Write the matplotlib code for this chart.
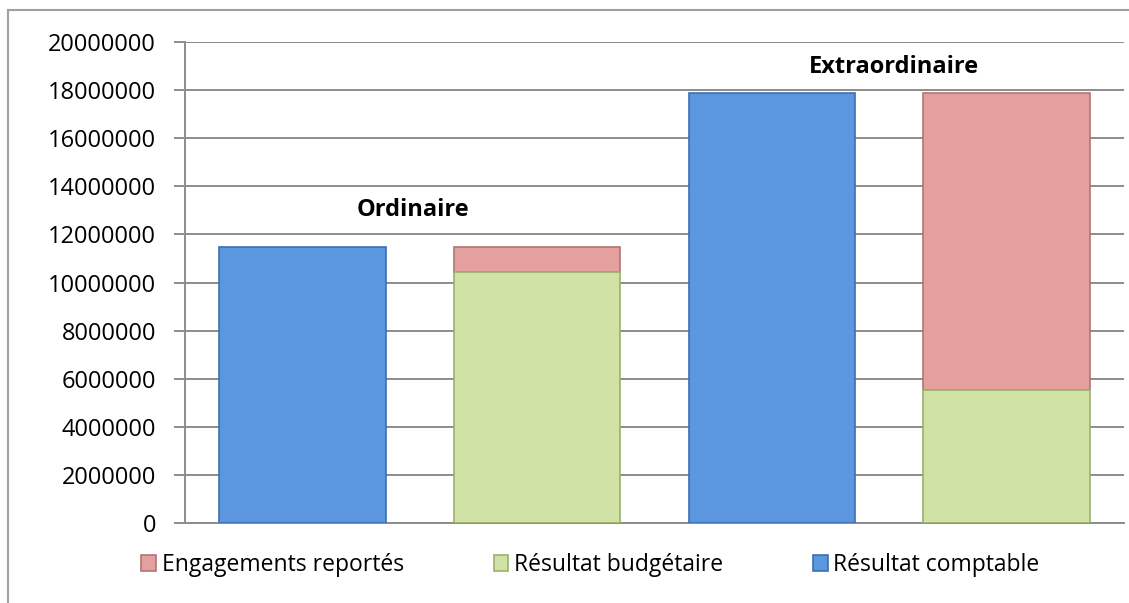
import matplotlib
matplotlib.use("Agg")
import matplotlib.pyplot as plt
from matplotlib.patches import Rectangle
import numpy as np

plt.rcParams['font.family'] = ['Open Sans', 'DejaVu Sans']

# data
bars = ["Ordinaire comptable", "Ordinaire budgétaire",
        "Extraordinaire comptable", "Extraordinaire budgétaire"]
comptable = [11480000, 0, 17880000, 0]
budgetaire = [0, 10440000, 0, 5550000]
engagements = [0, 1040000, 0, 12330000]
groupes = ["Ordinaire", "Extraordinaire"]
groupe_pos = [0.47, 2.52]
groupe_y = [13000000, 18950000]

BLUE, BLUE_E = "#5B97DE", "#3F6FAF"
GREEN, GREEN_E = "#D0E2A5", "#9BB06A"
PINK, PINK_E = "#E4A09E", "#B07573"
GRID = "#8C8C8C"


def nz(v):
    # hide empty segments so they draw no edge line
    v = np.array(v, dtype=float)
    return np.where(v > 0, v, np.nan)


fig = plt.figure(figsize=(11.29, 6.03), dpi=100)
ax = fig.add_axes([0.1639, 0.1327, 0.8317, 0.7976])

x = np.arange(len(bars))
w = 0.71
b1 = ax.bar(x, nz(engagements), w, bottom=budgetaire, color=PINK, edgecolor=PINK_E,
            linewidth=1.2, label="Engagements reportés", zorder=3)
b2 = ax.bar(x, nz(budgetaire), w, color=GREEN, edgecolor=GREEN_E,
            linewidth=1.2, label="Résultat budgétaire", zorder=3)
b3 = ax.bar(x, nz(comptable), w, color=BLUE, edgecolor=BLUE_E,
            linewidth=1.2, label="Résultat comptable", zorder=3)

for name, gx, gy in zip(groupes, groupe_pos, groupe_y):
    ax.text(gx, gy, name, ha='center', va='center', fontsize=17,
            fontweight='bold', color='black')

ax.set_xlim(-0.5, 3.5)
ax.set_ylim(0, 20000000)
ax.set_yticks(np.arange(0, 20000001, 2000000))
ax.set_yticklabels([str(v) for v in range(0, 20000001, 2000000)])
ax.set_xticks([])
ax.yaxis.grid(True, color=GRID, linewidth=1.4, zorder=0)
ax.set_axisbelow(True)
for s in ['top', 'right']:
    ax.spines[s].set_visible(False)
for s in ['left', 'bottom']:
    ax.spines[s].set_color(GRID)
    ax.spines[s].set_linewidth(1.4)
ax.tick_params(axis='y', length=8, width=1.4, color=GRID, labelsize=17,
               pad=13, direction='out')

fig.legend(handles=[b1, b2, b3], loc='center', bbox_to_anchor=(0.523, 0.063),
           ncol=3, frameon=False, fontsize=16.5, handlelength=0.65,
           handleheight=0.65, handletextpad=0.25, columnspacing=3.9)

fig.patches.append(Rectangle((8 / 1129, -0.1), 1.2, 1 - 10 / 603 + 0.1,
                             transform=fig.transFigure, fill=False,
                             edgecolor="#A0A0A0", linewidth=1.5))

fig.savefig("out.png", dpi=100)
